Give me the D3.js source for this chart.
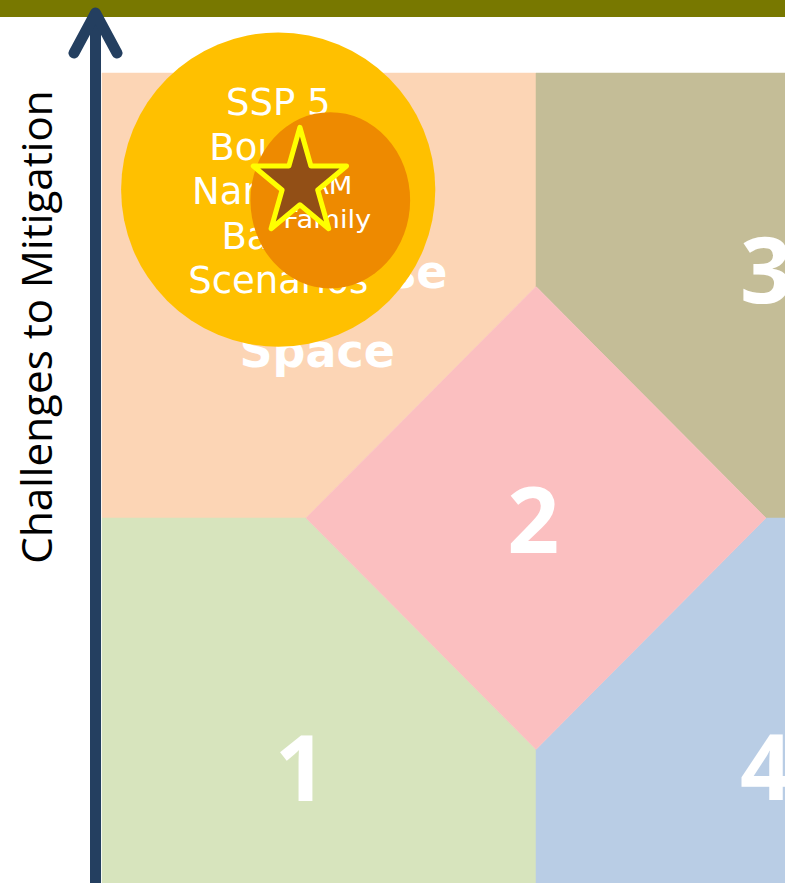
<!DOCTYPE html>
<html>
<head>
<meta charset="utf-8">
<title>SSP challenge space</title>
<script src="https://d3js.org/d3.v7.min.js"></script>
<style>
  body { margin: 0; background: #fff; }
  svg { display: block; }
</style>
</head>
<body>
<svg id="chart" width="785" height="883"></svg>
<script>
// challenge space, 0..10 on both axes (adaptation -> x, mitigation -> y)
const regionNames = ["5", "3", "1", "4", "2"];
const regionColors = ["#fcd5b5", "#c4bd97", "#d7e4bd", "#b9cde5", "#fbbfc0"];
const regionShapes = [
  [[0, 10], [5, 10], [5, 7.6], [2.35, 5], [0, 5]],
  [[5, 10], [10, 10], [10, 5], [7.65, 5], [5, 7.6]],
  [[0, 5], [2.35, 5], [5, 2.4], [5, 0], [0, 0]],
  [[5, 2.4], [7.65, 5], [10, 5], [10, 0], [5, 0]],
  [[5, 7.6], [7.65, 5], [5, 2.4], [2.35, 5]]
];
// where each number label sits (baseline)
const numberLabels = ["1", "2", "3", "4"];
const numberX = [2.29, 4.97, 7.65, 7.65];
const numberY = [1.82, 4.61, 7.42, 1.83];

// SSP5 region label (mostly hidden behind the bubble)
const spaceLines = ["5", "Response", "Space"];
const spaceLineX = [2.48, 2.54, 2.48];
const spaceLineY = [8.5, 7.58, 6.7];

// SSP 5 bubble, IAM bubble and star
const bubbleText = ["SSP 5", "Bounds", "Narrative", "Based", "Scenarios"];
const bubble = { x: 2.03, y: 8.69, r: 1.81 };
const iamText = ["IAM", "Family"];
const iam = { x: 2.63, y: 8.57, rx: 0.92, ry: 0.99 };
const star = { x: 2.28, y: 8.76, r: 0.565 };

const yAxisTitle = "Challenges to Mitigation";

const svg = d3.select("#chart");
const x = d3.scaleLinear().domain([0, 10]).range([102, 970]);
const y = d3.scaleLinear().domain([0, 10]).range([963, 73]);

// top bar
svg.append("rect").attr("x", 0).attr("y", 0).attr("width", 785).attr("height", 17)
  .attr("fill", "#787800");

// regions
const line = d3.line().x(d => x(d[0])).y(d => y(d[1])).curve(d3.curveLinearClosed);
svg.append("g").selectAll("path").data(regionShapes).join("path")
  .attr("d", line)
  .attr("fill", (d, i) => regionColors[i])
  .attr("stroke", (d, i) => regionColors[i])
  .attr("stroke-width", 0.5);

svg.append("g").selectAll("text").data(numberLabels).join("text")
  .attr("x", (d, i) => x(numberX[i]))
  .attr("y", (d, i) => y(numberY[i]))
  .attr("text-anchor", "middle")
  .attr("font-family", "Open Sans")
  .attr("font-weight", 700)
  .attr("font-size", 91)
  .attr("fill", "#fff")
  .text(d => d);

svg.append("g").selectAll("text").data(spaceLines).join("text")
  .attr("x", (d, i) => x(spaceLineX[i]))
  .attr("y", (d, i) => y(spaceLineY[i]))
  .attr("text-anchor", "middle")
  .attr("font-family", "DejaVu Sans")
  .attr("font-weight", 700)
  .attr("font-size", 46)
  .attr("fill", "#fff")
  .text(d => d);

// SSP 5 bubble
const rx = v => x(v) - x(0);
const ry = v => y(0) - y(v);
svg.append("circle")
  .attr("cx", x(bubble.x)).attr("cy", y(bubble.y))
  .attr("r", rx(bubble.r))
  .attr("fill", "#ffc000");

svg.append("g").selectAll("text").data(bubbleText).join("text")
  .attr("x", x(bubble.x))
  .attr("y", (d, i) => 115 + i * 44.5)
  .attr("text-anchor", "middle")
  .attr("font-family", "DejaVu Sans")
  .attr("font-size", 37)
  .attr("fill", "#fff")
  .text(d => d);

svg.append("ellipse")
  .attr("cx", x(iam.x)).attr("cy", y(iam.y))
  .attr("rx", rx(iam.rx)).attr("ry", ry(iam.ry))
  .attr("fill", "#ee8a00");

// IAM text is a little stretched sideways in the original
svg.append("g")
  .attr("transform", `translate(${x(iam.x) - 3},0) scale(1.14,1)`)
  .selectAll("text").data(iamText).join("text")
  .attr("x", 0)
  .attr("y", (d, i) => 194 + i * 34)
  .attr("text-anchor", "middle")
  .attr("font-family", "DejaVu Sans")
  .attr("font-size", 24)
  .attr("fill", "#fff")
  .text(d => d);

// star (a bit taller than wide)
const sr = rx(star.r);
svg.append("path")
  .attr("d", d3.symbol(d3.symbolStar, sr * sr / 0.8908130915292852)())
  .attr("transform", `translate(${x(star.x)},${y(star.y)}) scale(1,1.143)`)
  .attr("fill", "#924f16")
  .attr("stroke", "#ffff00")
  .attr("stroke-width", 5)
  .attr("stroke-linejoin", "round")
  .attr("vector-effect", "non-scaling-stroke");

// y axis arrow
const axisX = 95.5;
const arrow = svg.append("g")
  .attr("stroke", "#243f60")
  .attr("stroke-width", 11)
  .attr("stroke-linecap", "round")
  .attr("stroke-linejoin", "round")
  .attr("fill", "none");
arrow.append("line").attr("x1", axisX).attr("x2", axisX).attr("y1", 14).attr("y2", 900);
arrow.append("path").attr("d", `M${axisX - 21.5},${53} L${axisX},${13} L${axisX + 21.5},${53}`);

svg.append("text")
  .attr("transform", `translate(52,327) rotate(-90)`)
  .attr("text-anchor", "middle")
  .attr("font-family", "Open Sans")
  .attr("font-size", 42.2)
  .attr("fill", "#000")
  .text(yAxisTitle);
</script>
</body>
</html>
